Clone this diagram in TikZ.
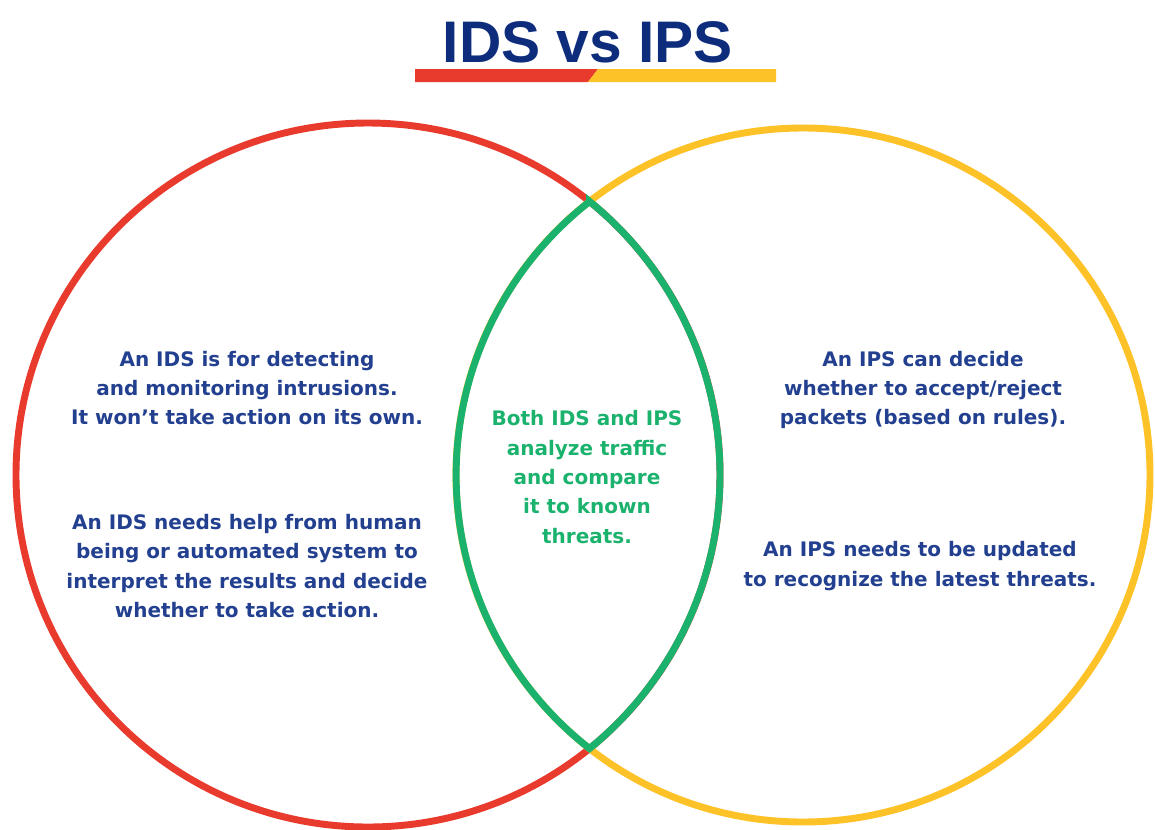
\documentclass[tikz,border=0pt]{standalone}
\usepackage{fontspec}
\setmainfont{DejaVu Sans}
\newfontfamily\titlefont{Liberation Sans}
\usepackage{tikz}

\definecolor{idsred}{RGB}{233,58,46}
\definecolor{ipsyellow}{RGB}{253,194,39}
\definecolor{bothgreen}{RGB}{27,178,110}
\definecolor{textnavy}{RGB}{34,64,143}
\definecolor{titlenavy}{RGB}{13,44,124}

\tikzset{
  ring/.style={line width=5.2pt},
  bodytext/.style={align=center,inner sep=0.75pt,text=textnavy,
    font=\fontsize{15pt}{22pt}\selectfont\bfseries},
}

\begin{document}
\begin{tikzpicture}[x=0.75pt,y=0.75pt,yscale=-1,xscale=1]
\useasboundingbox (0,0) rectangle (1155,829);

%Circle centres
\coordinate (idsc) at (368,475);
\coordinate (ipsc) at (803,475);
\coordinate (toppt) at (589.5,201.4);

%Shape: Circle [IDS]
\draw [ring,color=idsred] (idsc) circle [radius=352];
%Shape: Circle [IPS]
\draw [ring,color=ipsyellow] (ipsc) circle [radius=347];
%Shape: Lens [both]
\draw [ring,color=bothgreen] (toppt) arc [start angle=-51,end angle=51,radius=352]
  arc [start angle=128,end angle=232,radius=347] -- cycle;

%Title bar
\fill [idsred] (415,69) -- (598,69) -- (588,82) -- (415,82) -- cycle;
\fill [ipsyellow] (598,69) -- (776,69) -- (776,82) -- (588,82) -- cycle;

% Text Node
\node (title) at (588,42) [inner sep=0pt,text=titlenavy,font=\titlefont\fontsize{44pt}{44pt}\selectfont\bfseries] {IDS vs IPS};
% Text Node
\node (idsone) at (247,388) [bodytext] {An IDS is for detecting\\and monitoring intrusions.\\It won’t take action on its own.};
% Text Node
\node (idstwo) at (247,566) [bodytext] {An IDS needs help from human\\being or automated system to\\interpret the results and decide\\whether to take action.};
% Text Node
\node (ipsone) at (923,390) [bodytext] {An IPS can decide\\whether to accept/reject\\packets (based on rules).};
% Text Node
\node (ipstwo) at (920,566) [bodytext] {An IPS needs to be updated\\to recognize the latest threats.};
% Text Node
\node (both) at (587,477) [bodytext,text=bothgreen] {Both IDS and IPS\\analyze traffic\\and compare\\it to known\\threats.};

\end{tikzpicture}
\end{document}
